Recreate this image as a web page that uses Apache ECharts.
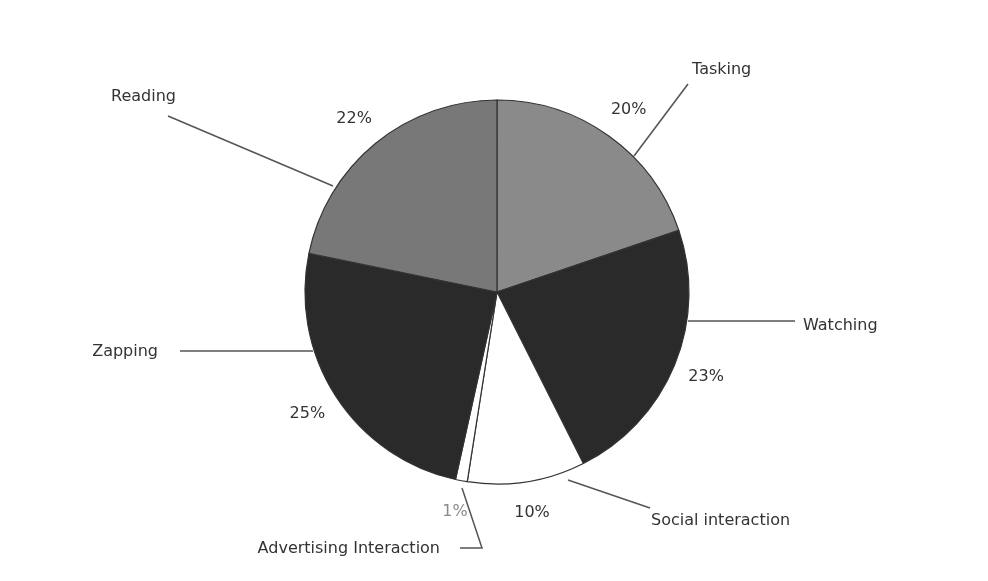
<!DOCTYPE html>
<html>
<head>
<meta charset="utf-8">
<script src="https://cdn.jsdelivr.net/npm/echarts@6/dist/echarts.min.js"></script>
<style>
  html, body { margin: 0; background: #fff; }
  #chart { width: 988px; height: 581px; }
</style>
</head>
<body>
<div id="chart"></div>
<script>
// datos del grafico
const categories = ['Tasking', 'Watching', 'Social interaction', 'Advertising Interaction', 'Zapping', 'Reading'];
const shares = [20, 23, 10, 1, 25, 22];
const sliceColors = ['#8a8a8a', '#2a2a2a', '#ffffff', '#ffffff', '#2a2a2a', '#787878'];

const cx = 497, cy = 292, R = 192;

// posicion de las etiquetas de nombre, relativa al centro del pastel
const nameLayout = [
    { line: [[137, -136], [191, -208], [191, -208]], text: [195, -222], align: 'left' },
    { line: [[191, 29], [298, 29], [298, 29]], text: [306, 34], align: 'left' },
    { line: [[71, 188], [153, 216], [153, 216]], text: [154, 229], align: 'left' },
    { line: [[-35, 196], [-15, 256], [-37, 256]], text: [-57, 257], align: 'right' },
    { line: [[-184, 59], [-317, 59], [-317, 59]], text: [-339, 60], align: 'right' },
    { line: [[-164, -106], [-329, -176], [-329, -176]], text: [-321, -195], align: 'right' }
];

// angulo medio de cada porcion (desde arriba, sentido horario)
const total = shares.reduce((a, b) => a + b, 0);
const midAngles = [];
let acc = 0;
shares.forEach(v => {
    midAngles.push((acc + v / 2) / total * 2 * Math.PI);
    acc += v;
});

const pieData = categories.map((name, i) => ({
    name: name,
    value: shares[i],
    itemStyle: { color: sliceColors[i] }
}));

const chart = echarts.init(document.getElementById('chart'));

chart.setOption({
    backgroundColor: '#ffffff',
    textStyle: { fontFamily: 'DejaVu Sans' },
    series: [
        {
            type: 'pie',
            center: [cx, cy],
            radius: R,
            startAngle: 90,
            clockwise: true,
            avoidLabelOverlap: false,
            animation: false,
            itemStyle: { borderColor: '#333333', borderWidth: 1.2 },
            label: {
                show: true,
                position: 'outside',
                formatter: '{b}',
                color: '#333333',
                fontSize: 16
            },
            labelLine: {
                show: true,
                lineStyle: { color: '#555555', width: 1.5 }
            },
            labelLayout: (params) => {
                const l = nameLayout[params.dataIndex];
                return {
                    x: cx + l.text[0],
                    y: cy + l.text[1],
                    align: l.align,
                    verticalAlign: 'middle',
                    labelLinePoints: l.line.map(p => [cx + p[0], cy + p[1]])
                };
            },
            data: pieData
        },
        {
            type: 'pie',
            center: [cx, cy],
            radius: R,
            startAngle: 90,
            clockwise: true,
            silent: true,
            animation: false,
            avoidLabelOverlap: false,
            itemStyle: { color: 'rgba(0,0,0,0)', borderWidth: 0 },
            label: {
                show: true,
                position: 'outside',
                formatter: '{c}%',
                color: '#333333',
                fontSize: 16
            },
            labelLine: { show: false },
            labelLayout: (params) => {
                const a = midAngles[params.dataIndex];
                return {
                    x: cx + 226 * Math.sin(a),
                    y: cy - 224 * Math.cos(a),
                    align: 'center',
                    verticalAlign: 'middle'
                };
            },
            data: categories.map((name, i) => ({
                name: name,
                value: shares[i],
                label: i === 3 ? { color: '#8a8a8a' } : undefined
            }))
        }
    ]
});
</script>
</body>
</html>
